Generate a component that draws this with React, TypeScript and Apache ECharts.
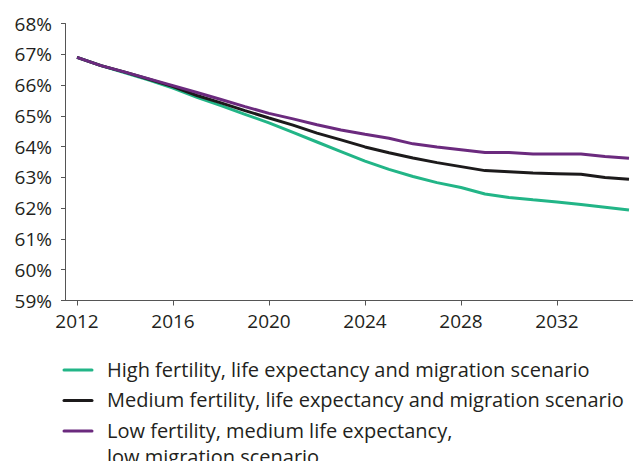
import React, { useEffect, useRef } from "react";
import * as echarts from "echarts";

const years = [
  "2012", "2013", "2014", "2015", "2016", "2017", "2018", "2019", "2020", "2021", "2022", "2023",
  "2024", "2025", "2026", "2027", "2028", "2029", "2030", "2031", "2032", "2033", "2034", "2035",
];

const highScenario = [
  66.9, 66.63, 66.4, 66.16, 65.9, 65.6, 65.33, 65.05, 64.77, 64.46, 64.15, 63.84,
  63.53, 63.26, 63.03, 62.83, 62.67, 62.46, 62.35, 62.27, 62.2, 62.12, 62.03, 61.94,
];

const mediumScenario = [
  66.9, 66.63, 66.42, 66.19, 65.95, 65.66, 65.42, 65.17, 64.93, 64.7, 64.44, 64.22,
  63.99, 63.8, 63.63, 63.48, 63.35, 63.22, 63.18, 63.14, 63.12, 63.1, 63.0, 62.94,
];

const lowScenario = [
  66.9, 66.63, 66.42, 66.2, 65.98, 65.76, 65.53, 65.3, 65.08, 64.9, 64.71, 64.54,
  64.4, 64.27, 64.09, 63.99, 63.9, 63.81, 63.81, 63.76, 63.76, 63.76, 63.68, 63.62,
];

const seriesNames = [
  "High fertility, life expectancy and migration scenario",
  "Medium fertility, life expectancy and migration scenario",
  "Low fertility, medium life expectancy,\nlow migration scenario",
];

const colors = ["#22b587", "#1c1a1b", "#6b2a7e"];

const FONT = "'Open Sans', 'Noto Sans', sans-serif";

export default function App() {
  const ref = useRef<HTMLDivElement>(null);

  useEffect(() => {
    if (!ref.current) return;
    const chart = echarts.init(ref.current, null, { renderer: "svg" });
    const dataSets = [highScenario, mediumScenario, lowScenario];

    const legendTop = 369;
    const legendGap = 30.5;
    const lineH = 26;
    const legendGraphics: any[] = [];
    seriesNames.forEach((name, i) => {
      const cy = legendTop + i * legendGap;
      legendGraphics.push({
        type: "line",
        shape: { x1: 64, y1: cy + 1, x2: 92, y2: cy + 1 },
        style: { stroke: colors[i], lineWidth: 3, lineCap: "round" },
      });
      legendGraphics.push({
        type: "text",
        x: 107,
        y: cy - lineH / 2,
        style: {
          text: name,
          font: `20px ${FONT}`,
          fill: "#231f20",
          lineHeight: lineH,
          verticalAlign: "top",
          align: "left",
        },
      });
    });

    chart.setOption({
      animation: false,
      backgroundColor: "#ffffff",
      grid: { left: 65, right: -2, top: 23.5, bottom: 168.5, containLabel: false },
      xAxis: {
        type: "category",
        data: years,
        boundaryGap: true,
        axisLine: { lineStyle: { color: "#555555", width: 1 } },
        axisTick: { show: true, alignWithLabel: true, interval: 3, length: 5, lineStyle: { color: "#555555" } },
        axisLabel: {
          interval: 3,
          color: "#231f20",
          fontFamily: FONT,
          fontSize: 19,
          margin: 11,
        },
        splitLine: { show: false },
      },
      yAxis: {
        type: "value",
        min: 59,
        max: 68,
        interval: 1,
        axisLine: { show: true, lineStyle: { color: "#555555", width: 1 } },
        axisTick: { show: true, length: 4, lineStyle: { color: "#555555" } },
        axisLabel: {
          formatter: "{value}%",
          color: "#231f20",
          fontFamily: FONT,
          fontSize: 19,
          margin: 13,
        },
        splitLine: { show: false },
      },
      series: dataSets.map((d, i) => ({
        name: seriesNames[i],
        type: "line",
        data: d,
        symbol: "none",
        z: 3 + i,
        lineStyle: { color: colors[i], width: 3 },
        itemStyle: { color: colors[i] },
      })),
      graphic: legendGraphics,
    });

    return () => chart.dispose();
  }, []);

  return <div ref={ref} style={{ width: 641, height: 469, margin: -8 }} />;
}
